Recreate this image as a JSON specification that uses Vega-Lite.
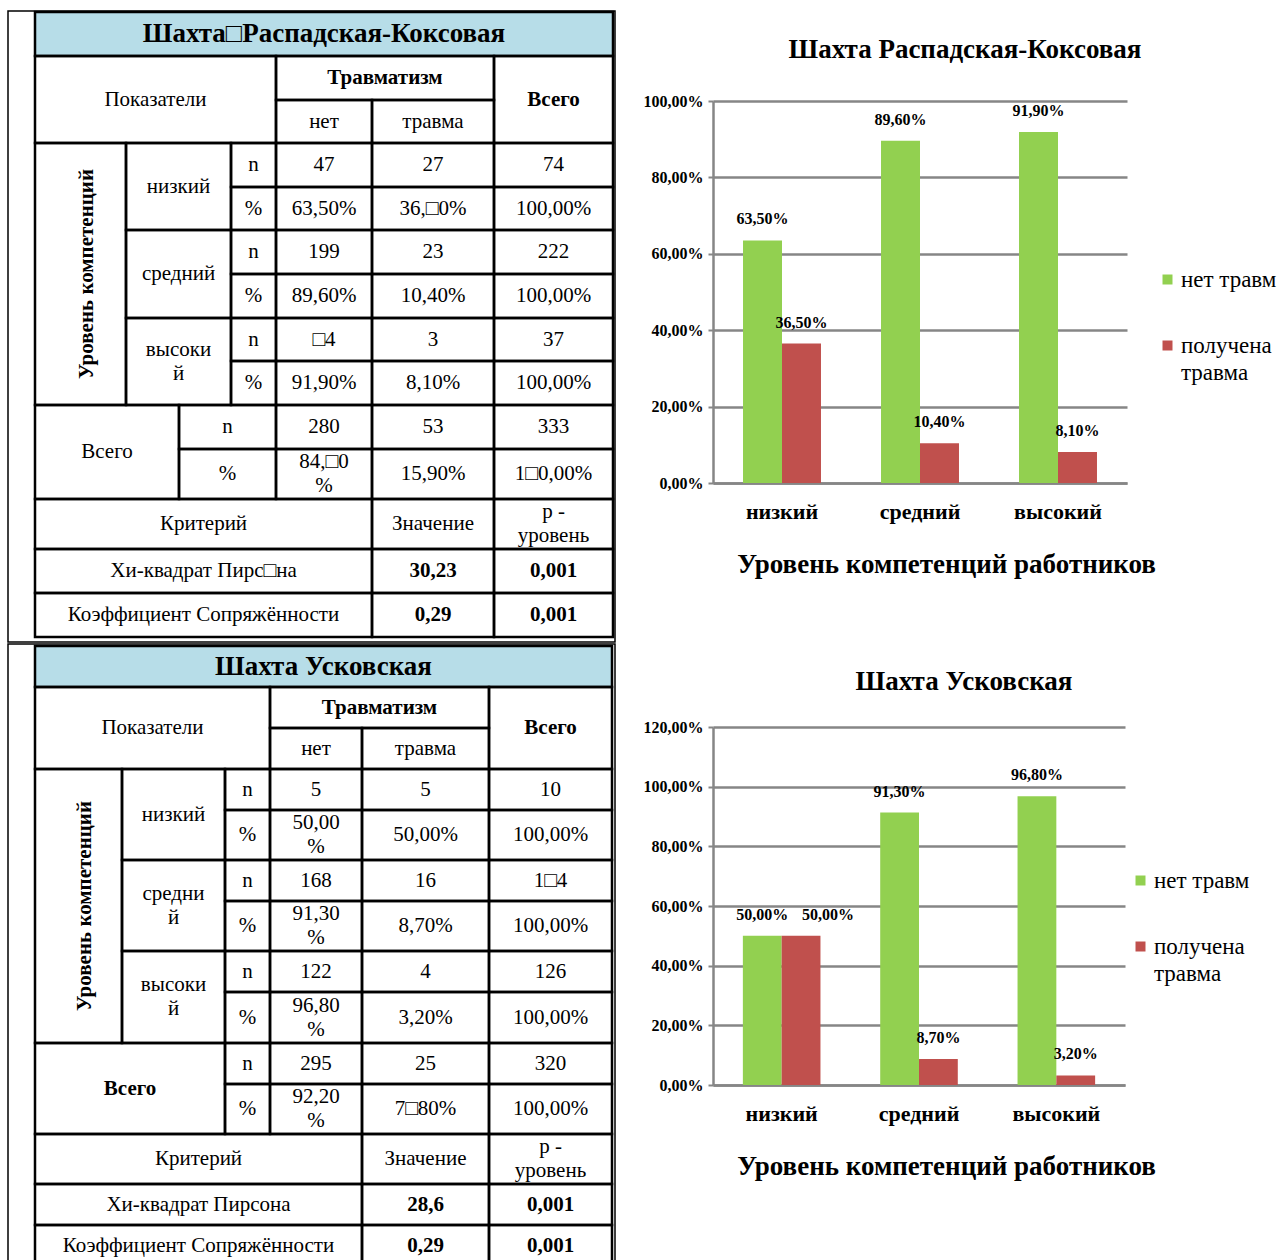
{
  "$schema": "https://vega.github.io/schema/vega-lite/v6.json",
  "padding": {"left": 7, "top": 10, "right": 0, "bottom": 0},
  "background": "white",
  "spacing": 27,
  "config": {
    "view": {"stroke": null},
    "font": "Liberation Serif",
    "style": {"guide-label": {"lineHeight": 27}},
    "locale": {"number": {"decimal": ",", "thousands": " ", "grouping": [3], "currency": ["", ""]}}
  },
  "resolve": {"scale": {"x": "independent", "y": "independent", "xOffset": "independent", "color": "independent"}, "legend": {"color": "independent"}},
  "datasets": {
    "table1": [
      {"c1": 0, "c2": 9, "r1": 0, "r2": 16, "text": "", "role": "frame"},
      {"c1": 1, "c2": 8, "r1": 1, "r2": 2, "text": "Шахта□Распадская-Коксовая", "role": "title"},
      {"c1": 1, "c2": 5, "r1": 2, "r2": 4, "text": "Показатели", "role": "stub"},
      {"c1": 5, "c2": 7, "r1": 2, "r2": 3, "text": "Травматизм", "role": "header"},
      {"c1": 5, "c2": 6, "r1": 3, "r2": 4, "text": "нет", "role": "stub"},
      {"c1": 6, "c2": 7, "r1": 3, "r2": 4, "text": "травма", "role": "stub"},
      {"c1": 7, "c2": 8, "r1": 2, "r2": 4, "text": "Всего", "role": "header"},
      {"c1": 1, "c2": 2, "r1": 4, "r2": 10, "text": "Уровень компетенций", "role": "dimension"},
      {"c1": 2, "c2": 4, "r1": 4, "r2": 6, "text": "низкий", "role": "stub"},
      {"c1": 4, "c2": 5, "r1": 4, "r2": 5, "text": "n", "role": "stub"},
      {"c1": 5, "c2": 6, "r1": 4, "r2": 5, "text": "47", "role": "value"},
      {"c1": 6, "c2": 7, "r1": 4, "r2": 5, "text": "27", "role": "value"},
      {"c1": 7, "c2": 8, "r1": 4, "r2": 5, "text": "74", "role": "value"},
      {"c1": 4, "c2": 5, "r1": 5, "r2": 6, "text": "%", "role": "stub"},
      {"c1": 5, "c2": 6, "r1": 5, "r2": 6, "text": "63,50%", "role": "value"},
      {"c1": 6, "c2": 7, "r1": 5, "r2": 6, "text": "36,□0%", "role": "value"},
      {"c1": 7, "c2": 8, "r1": 5, "r2": 6, "text": "100,00%", "role": "value"},
      {"c1": 2, "c2": 4, "r1": 6, "r2": 8, "text": "средний", "role": "stub"},
      {"c1": 4, "c2": 5, "r1": 6, "r2": 7, "text": "n", "role": "stub"},
      {"c1": 5, "c2": 6, "r1": 6, "r2": 7, "text": "199", "role": "value"},
      {"c1": 6, "c2": 7, "r1": 6, "r2": 7, "text": "23", "role": "value"},
      {"c1": 7, "c2": 8, "r1": 6, "r2": 7, "text": "222", "role": "value"},
      {"c1": 4, "c2": 5, "r1": 7, "r2": 8, "text": "%", "role": "stub"},
      {"c1": 5, "c2": 6, "r1": 7, "r2": 8, "text": "89,60%", "role": "value"},
      {"c1": 6, "c2": 7, "r1": 7, "r2": 8, "text": "10,40%", "role": "value"},
      {"c1": 7, "c2": 8, "r1": 7, "r2": 8, "text": "100,00%", "role": "value"},
      {"c1": 2, "c2": 4, "r1": 8, "r2": 10, "text": "высоки\nй", "role": "stub"},
      {"c1": 4, "c2": 5, "r1": 8, "r2": 9, "text": "n", "role": "stub"},
      {"c1": 5, "c2": 6, "r1": 8, "r2": 9, "text": "□4", "role": "value"},
      {"c1": 6, "c2": 7, "r1": 8, "r2": 9, "text": "3", "role": "value"},
      {"c1": 7, "c2": 8, "r1": 8, "r2": 9, "text": "37", "role": "value"},
      {"c1": 4, "c2": 5, "r1": 9, "r2": 10, "text": "%", "role": "stub"},
      {"c1": 5, "c2": 6, "r1": 9, "r2": 10, "text": "91,90%", "role": "value"},
      {"c1": 6, "c2": 7, "r1": 9, "r2": 10, "text": "8,10%", "role": "value"},
      {"c1": 7, "c2": 8, "r1": 9, "r2": 10, "text": "100,00%", "role": "value"},
      {"c1": 1, "c2": 3, "r1": 10, "r2": 12, "text": "Всего", "role": "stub"},
      {"c1": 3, "c2": 5, "r1": 10, "r2": 11, "text": "n", "role": "stub"},
      {"c1": 5, "c2": 6, "r1": 10, "r2": 11, "text": "280", "role": "value"},
      {"c1": 6, "c2": 7, "r1": 10, "r2": 11, "text": "53", "role": "value"},
      {"c1": 7, "c2": 8, "r1": 10, "r2": 11, "text": "333", "role": "value"},
      {"c1": 3, "c2": 5, "r1": 11, "r2": 12, "text": "%", "role": "stub"},
      {"c1": 5, "c2": 6, "r1": 11, "r2": 12, "text": "84,□0\n%", "role": "value"},
      {"c1": 6, "c2": 7, "r1": 11, "r2": 12, "text": "15,90%", "role": "value"},
      {"c1": 7, "c2": 8, "r1": 11, "r2": 12, "text": "1□0,00%", "role": "value"},
      {"c1": 1, "c2": 6, "r1": 12, "r2": 13, "text": "Критерий", "role": "stub"},
      {"c1": 6, "c2": 7, "r1": 12, "r2": 13, "text": "Значение", "role": "stub"},
      {"c1": 7, "c2": 8, "r1": 12, "r2": 13, "text": "р -\nуровень", "role": "stub"},
      {"c1": 1, "c2": 6, "r1": 13, "r2": 14, "text": "Хи-квадрат Пирс□на", "role": "stub"},
      {"c1": 6, "c2": 7, "r1": 13, "r2": 14, "text": "30,23", "role": "statistic"},
      {"c1": 7, "c2": 8, "r1": 13, "r2": 14, "text": "0,001", "role": "statistic"},
      {"c1": 1, "c2": 6, "r1": 14, "r2": 15, "text": "Коэффициент Сопряжённости", "role": "stub"},
      {"c1": 6, "c2": 7, "r1": 14, "r2": 15, "text": "0,29", "role": "statistic"},
      {"c1": 7, "c2": 8, "r1": 14, "r2": 15, "text": "0,001", "role": "statistic"}
    ],
    "table2": [
      {"c1": 0, "c2": 8, "r1": 0, "r2": 16, "text": "", "role": "frame"},
      {"c1": 1, "c2": 7, "r1": 1, "r2": 2, "text": "Шахта Усковская", "role": "title"},
      {"c1": 1, "c2": 4, "r1": 2, "r2": 4, "text": "Показатели", "role": "stub"},
      {"c1": 4, "c2": 6, "r1": 2, "r2": 3, "text": "Травматизм", "role": "header"},
      {"c1": 4, "c2": 5, "r1": 3, "r2": 4, "text": "нет", "role": "stub"},
      {"c1": 5, "c2": 6, "r1": 3, "r2": 4, "text": "травма", "role": "stub"},
      {"c1": 6, "c2": 7, "r1": 2, "r2": 4, "text": "Всего", "role": "header"},
      {"c1": 1, "c2": 2, "r1": 4, "r2": 10, "text": "Уровень компетенций", "role": "dimension"},
      {"c1": 2, "c2": 3, "r1": 4, "r2": 6, "text": "низкий", "role": "stub"},
      {"c1": 3, "c2": 4, "r1": 4, "r2": 5, "text": "n", "role": "stub"},
      {"c1": 4, "c2": 5, "r1": 4, "r2": 5, "text": "5", "role": "value"},
      {"c1": 5, "c2": 6, "r1": 4, "r2": 5, "text": "5", "role": "value"},
      {"c1": 6, "c2": 7, "r1": 4, "r2": 5, "text": "10", "role": "value"},
      {"c1": 3, "c2": 4, "r1": 5, "r2": 6, "text": "%", "role": "stub"},
      {"c1": 4, "c2": 5, "r1": 5, "r2": 6, "text": "50,00\n%", "role": "value"},
      {"c1": 5, "c2": 6, "r1": 5, "r2": 6, "text": "50,00%", "role": "value"},
      {"c1": 6, "c2": 7, "r1": 5, "r2": 6, "text": "100,00%", "role": "value"},
      {"c1": 2, "c2": 3, "r1": 6, "r2": 8, "text": "средни\nй", "role": "stub"},
      {"c1": 3, "c2": 4, "r1": 6, "r2": 7, "text": "n", "role": "stub"},
      {"c1": 4, "c2": 5, "r1": 6, "r2": 7, "text": "168", "role": "value"},
      {"c1": 5, "c2": 6, "r1": 6, "r2": 7, "text": "16", "role": "value"},
      {"c1": 6, "c2": 7, "r1": 6, "r2": 7, "text": "1□4", "role": "value"},
      {"c1": 3, "c2": 4, "r1": 7, "r2": 8, "text": "%", "role": "stub"},
      {"c1": 4, "c2": 5, "r1": 7, "r2": 8, "text": "91,30\n%", "role": "value"},
      {"c1": 5, "c2": 6, "r1": 7, "r2": 8, "text": "8,70%", "role": "value"},
      {"c1": 6, "c2": 7, "r1": 7, "r2": 8, "text": "100,00%", "role": "value"},
      {"c1": 2, "c2": 3, "r1": 8, "r2": 10, "text": "высоки\nй", "role": "stub"},
      {"c1": 3, "c2": 4, "r1": 8, "r2": 9, "text": "n", "role": "stub"},
      {"c1": 4, "c2": 5, "r1": 8, "r2": 9, "text": "122", "role": "value"},
      {"c1": 5, "c2": 6, "r1": 8, "r2": 9, "text": "4", "role": "value"},
      {"c1": 6, "c2": 7, "r1": 8, "r2": 9, "text": "126", "role": "value"},
      {"c1": 3, "c2": 4, "r1": 9, "r2": 10, "text": "%", "role": "stub"},
      {"c1": 4, "c2": 5, "r1": 9, "r2": 10, "text": "96,80\n%", "role": "value"},
      {"c1": 5, "c2": 6, "r1": 9, "r2": 10, "text": "3,20%", "role": "value"},
      {"c1": 6, "c2": 7, "r1": 9, "r2": 10, "text": "100,00%", "role": "value"},
      {"c1": 1, "c2": 3, "r1": 10, "r2": 12, "text": "Всего", "role": "header"},
      {"c1": 3, "c2": 4, "r1": 10, "r2": 11, "text": "n", "role": "stub"},
      {"c1": 4, "c2": 5, "r1": 10, "r2": 11, "text": "295", "role": "value"},
      {"c1": 5, "c2": 6, "r1": 10, "r2": 11, "text": "25", "role": "value"},
      {"c1": 6, "c2": 7, "r1": 10, "r2": 11, "text": "320", "role": "value"},
      {"c1": 3, "c2": 4, "r1": 11, "r2": 12, "text": "%", "role": "stub"},
      {"c1": 4, "c2": 5, "r1": 11, "r2": 12, "text": "92,20\n%", "role": "value"},
      {"c1": 5, "c2": 6, "r1": 11, "r2": 12, "text": "7□80%", "role": "value"},
      {"c1": 6, "c2": 7, "r1": 11, "r2": 12, "text": "100,00%", "role": "value"},
      {"c1": 1, "c2": 5, "r1": 12, "r2": 13, "text": "Критерий", "role": "stub"},
      {"c1": 5, "c2": 6, "r1": 12, "r2": 13, "text": "Значение", "role": "stub"},
      {"c1": 6, "c2": 7, "r1": 12, "r2": 13, "text": "р -\nуровень", "role": "stub"},
      {"c1": 1, "c2": 5, "r1": 13, "r2": 14, "text": "Хи-квадрат Пирсона", "role": "stub"},
      {"c1": 5, "c2": 6, "r1": 13, "r2": 14, "text": "28,6", "role": "statistic"},
      {"c1": 6, "c2": 7, "r1": 13, "r2": 14, "text": "0,001", "role": "statistic"},
      {"c1": 1, "c2": 5, "r1": 14, "r2": 15, "text": "Коэффициент Сопряжённости", "role": "stub"},
      {"c1": 5, "c2": 6, "r1": 14, "r2": 15, "text": "0,29", "role": "statistic"},
      {"c1": 6, "c2": 7, "r1": 14, "r2": 15, "text": "0,001", "role": "statistic"}
    ],
    "chart1": [
      {"level": "низкий", "group": "нет травм", "share": 0.635},
      {"level": "низкий", "group": "получена травма", "share": 0.365},
      {"level": "средний", "group": "нет травм", "share": 0.896},
      {"level": "средний", "group": "получена травма", "share": 0.104},
      {"level": "высокий", "group": "нет травм", "share": 0.919},
      {"level": "высокий", "group": "получена травма", "share": 0.081}
    ],
    "chart2": [
      {"level": "низкий", "group": "нет травм", "share": 0.5},
      {"level": "низкий", "group": "получена травма", "share": 0.5},
      {"level": "средний", "group": "нет травм", "share": 0.913},
      {"level": "средний", "group": "получена травма", "share": 0.087},
      {"level": "высокий", "group": "нет травм", "share": 0.968},
      {"level": "высокий", "group": "получена травма", "share": 0.032}
    ]
  },
  "hconcat": [
    {
      "spacing": 0,
      "resolve": {"scale": {"x": "independent", "y": "independent"}},
      "vconcat": [
        {
          "name": "tableone",
          "width": 607,
          "height": 541,
          "data": {"name": "table1"},
          "layer": [
            {"transform": [{"filter": "datum.role == 'frame'"}], "mark": {"type": "rect", "filled": false, "stroke": "black", "strokeWidth": 1.5},
             "encoding": {
               "x": {"field": "c1", "type": "quantitative", "axis": null, "scale": {"domain": [0, 1, 2, 3, 4, 5, 6, 7, 8, 9], "range": [0, 27, 118, 171, 223, 268, 364, 486, 605, 607], "nice": false, "zero": false}},
               "x2": {"field": "c2"},
               "y": {"field": "r1", "type": "quantitative", "axis": null, "scale": {"domain": [0, 1, 2, 3, 4, 5, 6, 7, 8, 9, 10, 11, 12, 13, 14, 15, 16], "range": [-90, -89, -45, -1, 42, 86, 129, 173, 217, 260, 304, 348, 398, 448, 492, 536, 541], "nice": false, "zero": false}},
               "y2": {"field": "r2"}
             }},
            {"transform": [{"filter": "datum.role == 'title'"}], "mark": {"type": "rect", "fill": "#B7DDE8"},
             "encoding": {"x": {"field": "c1", "type": "quantitative"}, "x2": {"field": "c2"}, "y": {"field": "r1", "type": "quantitative"}, "y2": {"field": "r2"}}},
            {"transform": [{"filter": "datum.role != 'frame'"}], "mark": {"type": "rect", "filled": false, "stroke": "black", "strokeWidth": 2.5},
             "encoding": {"x": {"field": "c1", "type": "quantitative"}, "x2": {"field": "c2"}, "y": {"field": "r1", "type": "quantitative"}, "y2": {"field": "r2"}}},
            {"transform": [{"filter": "(datum.role == 'stub' || datum.role == 'value') && indexof(datum.text, '\\n') < 0"}],
             "mark": {"type": "text", "fontSize": 21, "align": "center", "baseline": "middle", "color": "black",
               "x": {"expr": "(scale('tableone_x', datum.c1) + scale('tableone_x', datum.c2)) / 2"},
               "y": {"expr": "(scale('tableone_y', datum.r1) + scale('tableone_y', datum.r2)) / 2"}},
             "encoding": {"text": {"field": "text"}}},
            {"transform": [{"filter": "indexof(datum.text, '\\n') >= 0"}],
             "mark": {"type": "text", "fontSize": 21, "lineBreak": "\n", "lineHeight": 24, "dy": -12, "align": "center", "baseline": "middle", "color": "black",
               "x": {"expr": "(scale('tableone_x', datum.c1) + scale('tableone_x', datum.c2)) / 2"},
               "y": {"expr": "(scale('tableone_y', datum.r1) + scale('tableone_y', datum.r2)) / 2"}},
             "encoding": {"text": {"field": "text"}}},
            {"transform": [{"filter": "datum.role == 'header' || datum.role == 'statistic'"}],
             "mark": {"type": "text", "fontSize": 21, "fontWeight": "bold", "align": "center", "baseline": "middle", "color": "black",
               "x": {"expr": "(scale('tableone_x', datum.c1) + scale('tableone_x', datum.c2)) / 2"},
               "y": {"expr": "(scale('tableone_y', datum.r1) + scale('tableone_y', datum.r2)) / 2"}},
             "encoding": {"text": {"field": "text"}}},
            {"transform": [{"filter": "datum.role == 'title'"}],
             "mark": {"type": "text", "fontSize": 27, "fontWeight": "bold", "align": "center", "baseline": "middle", "color": "black",
               "x": {"expr": "(scale('tableone_x', datum.c1) + scale('tableone_x', datum.c2)) / 2"},
               "y": {"expr": "(scale('tableone_y', datum.r1) + scale('tableone_y', datum.r2)) / 2"}},
             "encoding": {"text": {"field": "text"}}},
            {"transform": [{"filter": "datum.role == 'dimension'"}],
             "mark": {"type": "text", "fontSize": 21, "fontWeight": "bold", "angle": 270, "dy": 6, "align": "center", "baseline": "middle", "color": "black",
               "x": {"expr": "(scale('tableone_x', datum.c1) + scale('tableone_x', datum.c2)) / 2"},
               "y": {"expr": "(scale('tableone_y', datum.r1) + scale('tableone_y', datum.r2)) / 2"}},
             "encoding": {"text": {"field": "text"}}}
          ]
        },
        {
          "name": "tabletwo",
          "width": 607,
          "height": 625,
          "data": {"name": "table2"},
          "layer": [
            {"transform": [{"filter": "datum.role == 'frame'"}], "mark": {"type": "rect", "filled": false, "stroke": "black", "strokeWidth": 1.5},
             "encoding": {
               "x": {"field": "c1", "type": "quantitative", "axis": null, "scale": {"domain": [0, 1, 2, 3, 4, 5, 6, 7, 8], "range": [0, 27, 114, 217, 262, 354, 481, 604, 607], "nice": false, "zero": false}},
               "x2": {"field": "c2"},
               "y": {"field": "r1", "type": "quantitative", "axis": null, "scale": {"domain": [0, 1, 2, 3, 4, 5, 6, 7, 8, 9, 10, 11, 12, 13, 14, 15, 16], "range": [0, 2, 43, 84, 125, 166, 216, 257, 307, 348, 399, 440, 490, 540, 581, 623, 625], "nice": false, "zero": false}},
               "y2": {"field": "r2"}
             }},
            {"transform": [{"filter": "datum.role == 'title'"}], "mark": {"type": "rect", "fill": "#B7DDE8"},
             "encoding": {"x": {"field": "c1", "type": "quantitative"}, "x2": {"field": "c2"}, "y": {"field": "r1", "type": "quantitative"}, "y2": {"field": "r2"}}},
            {"transform": [{"filter": "datum.role != 'frame'"}], "mark": {"type": "rect", "filled": false, "stroke": "black", "strokeWidth": 2.5},
             "encoding": {"x": {"field": "c1", "type": "quantitative"}, "x2": {"field": "c2"}, "y": {"field": "r1", "type": "quantitative"}, "y2": {"field": "r2"}}},
            {"transform": [{"filter": "(datum.role == 'stub' || datum.role == 'value') && indexof(datum.text, '\\n') < 0"}],
             "mark": {"type": "text", "fontSize": 21, "align": "center", "baseline": "middle", "color": "black",
               "x": {"expr": "(scale('tabletwo_x', datum.c1) + scale('tabletwo_x', datum.c2)) / 2"},
               "y": {"expr": "(scale('tabletwo_y', datum.r1) + scale('tabletwo_y', datum.r2)) / 2"}},
             "encoding": {"text": {"field": "text"}}},
            {"transform": [{"filter": "indexof(datum.text, '\\n') >= 0"}],
             "mark": {"type": "text", "fontSize": 21, "lineBreak": "\n", "lineHeight": 24, "dy": -12, "align": "center", "baseline": "middle", "color": "black",
               "x": {"expr": "(scale('tabletwo_x', datum.c1) + scale('tabletwo_x', datum.c2)) / 2"},
               "y": {"expr": "(scale('tabletwo_y', datum.r1) + scale('tabletwo_y', datum.r2)) / 2"}},
             "encoding": {"text": {"field": "text"}}},
            {"transform": [{"filter": "datum.role == 'header' || datum.role == 'statistic'"}],
             "mark": {"type": "text", "fontSize": 21, "fontWeight": "bold", "align": "center", "baseline": "middle", "color": "black",
               "x": {"expr": "(scale('tabletwo_x', datum.c1) + scale('tabletwo_x', datum.c2)) / 2"},
               "y": {"expr": "(scale('tabletwo_y', datum.r1) + scale('tabletwo_y', datum.r2)) / 2"}},
             "encoding": {"text": {"field": "text"}}},
            {"transform": [{"filter": "datum.role == 'title'"}],
             "mark": {"type": "text", "fontSize": 27, "fontWeight": "bold", "align": "center", "baseline": "middle", "color": "black",
               "x": {"expr": "(scale('tabletwo_x', datum.c1) + scale('tabletwo_x', datum.c2)) / 2"},
               "y": {"expr": "(scale('tabletwo_y', datum.r1) + scale('tabletwo_y', datum.r2)) / 2"}},
             "encoding": {"text": {"field": "text"}}},
            {"transform": [{"filter": "datum.role == 'dimension'"}],
             "mark": {"type": "text", "fontSize": 21, "fontWeight": "bold", "angle": 270, "dy": 6, "align": "center", "baseline": "middle", "color": "black",
               "x": {"expr": "(scale('tabletwo_x', datum.c1) + scale('tabletwo_x', datum.c2)) / 2"},
               "y": {"expr": "(scale('tabletwo_y', datum.r1) + scale('tabletwo_y', datum.r2)) / 2"}},
             "encoding": {"text": {"field": "text"}}}
          ]
        }
      ]
    },
    {
      "spacing": 65,
      "resolve": {"scale": {"x": "independent", "y": "independent", "xOffset": "independent", "color": "independent"}, "legend": {"color": "independent"}},
      "vconcat": [
        {
          "width": 414,
          "height": 382,
          "title": {"text": ["", "Шахта Распадская-Коксовая"], "fontSize": 27, "lineHeight": 26, "font": "Liberation Serif", "fontWeight": "bold", "color": "black", "anchor": "middle", "frame": "group", "dx": 45, "offset": 29},
          "data": {"name": "chart1"},
          "encoding": {
            "x": {"field": "level", "type": "nominal", "sort": ["низкий", "средний", "высокий"], "title": "Уровень компетенций работников", "scale": {"paddingInner": 0.435, "paddingOuter": 0.2175},
              "axis": {"labelAngle": 0, "labelFont": "Liberation Serif", "labelFontSize": 22, "labelFontWeight": "bold", "labelColor": "black", "labelPadding": 18, "ticks": false, "domainColor": "#868686", "domainWidth": 2.5, "titleFont": "Liberation Serif", "titleFontSize": 27, "titleFontWeight": "bold", "titleColor": "black", "titleX": 233, "titleY": 81, "titleBaseline": "middle", "titleAlign": "center", "titleAnchor": null}},
            "y": {"field": "share", "type": "quantitative", "title": null, "scale": {"domain": [0, 1], "nice": false},
              "axis": {"format": ".2%", "tickCount": 5, "labelFont": "Liberation Serif", "labelFontSize": 16, "labelFontWeight": "bold", "labelColor": "black", "labelPadding": 5, "tickSize": 5, "tickColor": "#868686", "tickWidth": 2, "domainColor": "#868686", "domainWidth": 2.5, "gridColor": "#868686", "gridWidth": 2.5}}
          },
          "layer": [
            {"mark": {"type": "bar"},
             "encoding": {
               "xOffset": {"field": "group", "sort": ["нет травм", "получена травма"], "scale": {"paddingInner": 0, "paddingOuter": 0}},
               "color": {"field": "group", "scale": {"domain": ["нет травм", "получена травма"], "range": ["#92D050", "#C0504D"]},
                 "legend": {"title": null, "orient": "none", "legendX": 443, "legendY": 167, "padding": 0, "symbolType": "square", "symbolSize": 100, "symbolStrokeWidth": 0, "labelFont": "Liberation Serif", "labelFontSize": 23, "labelColor": "black", "labelOffset": 2, "rowPadding": 42, "labelBaseline": "middle", "labelExpr": "datum.label == 'получена травма' ? ['получена', 'травма'] : datum.label"}}
             }},
            {"mark": {"type": "text", "baseline": "middle", "dy": -21, "fontSize": 16, "fontWeight": "bold", "color": "black"},
             "encoding": {
               "xOffset": {"field": "group", "sort": ["нет травм", "получена травма"]},
               "text": {"field": "share", "type": "quantitative", "format": ".2%"}
             }}
          ]
        },
        {
          "width": 412,
          "height": 358,
          "title": {"text": ["", "Шахта Усковская"], "fontSize": 27, "lineHeight": 26, "font": "Liberation Serif", "fontWeight": "bold", "color": "black", "anchor": "middle", "frame": "group", "dx": 45, "offset": 23},
          "data": {"name": "chart2"},
          "encoding": {
            "x": {"field": "level", "type": "nominal", "sort": ["низкий", "средний", "высокий"], "title": "Уровень компетенций работников", "scale": {"paddingInner": 0.435, "paddingOuter": 0.2175},
              "axis": {"labelAngle": 0, "labelFont": "Liberation Serif", "labelFontSize": 22, "labelFontWeight": "bold", "labelColor": "black", "labelPadding": 18, "ticks": false, "domainColor": "#868686", "domainWidth": 2.5, "titleFont": "Liberation Serif", "titleFontSize": 27, "titleFontWeight": "bold", "titleColor": "black", "titleX": 233, "titleY": 81, "titleBaseline": "middle", "titleAlign": "center", "titleAnchor": null}},
            "y": {"field": "share", "type": "quantitative", "title": null, "scale": {"domain": [0, 1.2], "nice": false},
              "axis": {"format": ".2%", "tickCount": 6, "labelFont": "Liberation Serif", "labelFontSize": 16, "labelFontWeight": "bold", "labelColor": "black", "labelPadding": 5, "tickSize": 5, "tickColor": "#868686", "tickWidth": 2, "domainColor": "#868686", "domainWidth": 2.5, "gridColor": "#868686", "gridWidth": 2.5}}
          },
          "layer": [
            {"mark": {"type": "bar"},
             "encoding": {
               "xOffset": {"field": "group", "sort": ["нет травм", "получена травма"], "scale": {"paddingInner": 0, "paddingOuter": 0}},
               "color": {"field": "group", "scale": {"domain": ["нет травм", "получена травма"], "range": ["#92D050", "#C0504D"]},
                 "legend": {"title": null, "orient": "none", "legendX": 416, "legendY": 142, "padding": 0, "symbolType": "square", "symbolSize": 100, "symbolStrokeWidth": 0, "labelFont": "Liberation Serif", "labelFontSize": 23, "labelColor": "black", "labelOffset": 2, "rowPadding": 42, "labelBaseline": "middle", "labelExpr": "datum.label == 'получена травма' ? ['получена', 'травма'] : datum.label"}}
             }},
            {"transform": [{"filter": "!(datum.level == 'низкий' && datum.group == 'получена травма')"}],
             "mark": {"type": "text", "baseline": "middle", "dy": -21, "fontSize": 16, "fontWeight": "bold", "color": "black"},
             "encoding": {
               "xOffset": {"field": "group", "sort": ["нет травм", "получена травма"]},
               "text": {"field": "share", "type": "quantitative", "format": ".2%"}
             }},
            {"transform": [{"filter": "datum.level == 'низкий' && datum.group == 'получена травма'"}],
             "mark": {"type": "text", "baseline": "middle", "dy": -21, "dx": 27, "fontSize": 16, "fontWeight": "bold", "color": "black"},
             "encoding": {
               "xOffset": {"field": "group", "sort": ["нет травм", "получена травма"]},
               "text": {"field": "share", "type": "quantitative", "format": ".2%"}
             }}
          ]
        }
      ]
    }
  ]
}
